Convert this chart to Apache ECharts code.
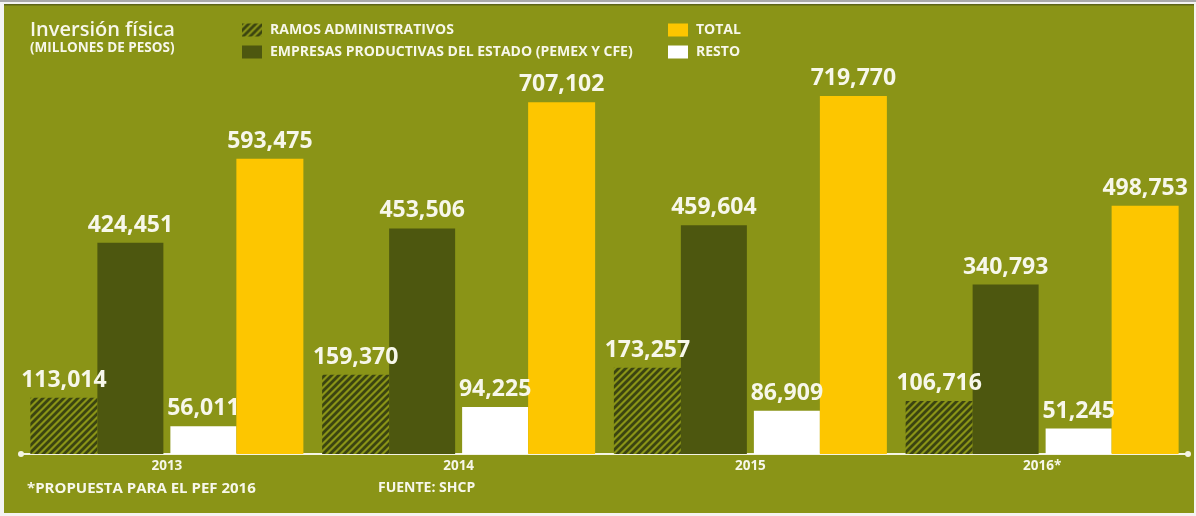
<!DOCTYPE html>
<html>
<head>
<meta charset="utf-8">
<script src="https://cdn.jsdelivr.net/npm/echarts@6/dist/echarts.min.js"></script>
<style>
html,body{margin:0;padding:0;background:#f4f4f2;}
#chart{width:1196px;height:516px;}
</style>
</head>
<body>
<div id="chart"></div>
<script>
const categories = ['2013', '2014', '2015', '2016*'];
const ramos = [113014, 159370, 173257, 106716];
const empresas = [424451, 453506, 459604, 340793];
const resto = [56011, 94225, 86909, 51245];
const total = [593475, 707102, 719770, 498753];
const seriesNames = ['RAMOS ADMINISTRATIVOS', 'EMPRESAS PRODUCTIVAS DEL ESTADO (PEMEX Y CFE)', 'TOTAL', 'RESTO'];

const GREEN = '#8a9417';
const DARK = '#4d570f';
const YELLOW = '#fdc600';
const WHITE = '#ffffff';
const TXT = '#f7f7ea';
const FONT = '"Open Sans", "Noto Sans", sans-serif';

function makeHatch() {
  const s = 7;
  const c = document.createElement('canvas');
  c.width = s; c.height = s;
  const g = c.getContext('2d');
  g.fillStyle = GREEN; g.fillRect(0, 0, s, s);
  g.strokeStyle = '#3b4410';
  g.lineWidth = 2.8;
  g.beginPath();
  g.moveTo(-1, s + 1); g.lineTo(s + 1, -1);
  g.moveTo(-2, 2); g.lineTo(2, -2);
  g.moveTo(s - 2, s + 2); g.lineTo(s + 2, s - 2);
  g.stroke();
  return c;
}
const hatch = { image: makeHatch(), repeat: 'repeat' };

const fmt = v => Number(v).toLocaleString('en-US');
const valueLabel = {
  show: true, position: 'top', distance: 6,
  color: TXT, fontFamily: FONT, fontWeight: 'bold', fontSize: 23,
  formatter: p => fmt(p.value)
};
const legendText = { color: TXT, fontFamily: FONT, fontWeight: 'bold', fontSize: 14, padding: [0, 0, 0, 3] };

const chart = echarts.init(document.getElementById('chart'));
chart.setOption({
  backgroundColor: '#f4f4f2',
  animation: false,
  title: {
    text: 'Inversión física',
    subtext: '(MILLONES DE PESOS)',
    left: 25, top: 15,
    itemGap: 1,
    textStyle: { color: TXT, fontFamily: FONT, fontWeight: 600, fontSize: 20 },
    subtextStyle: { color: TXT, fontFamily: FONT, fontWeight: 'bold', fontSize: 13.5 }
  },
  legend: [
    {
      data: [seriesNames[0], seriesNames[1]],
      orient: 'vertical', left: 237, top: 18, icon: 'rect',
      itemWidth: 20, itemHeight: 13, itemGap: 8,
      textStyle: legendText, selectedMode: false
    },
    {
      data: [seriesNames[2], seriesNames[3]],
      orient: 'vertical', left: 663, top: 18, icon: 'rect',
      itemWidth: 20, itemHeight: 13, itemGap: 8,
      textStyle: legendText, selectedMode: false
    }
  ],
  graphic: [
    { type: 'rect', z: -10, silent: true, shape: { x: 0, y: 0, width: 1196, height: 2 }, style: { fill: '#a9a9a9' } },
    { type: 'rect', z: -10, silent: true, shape: { x: 4, y: 4, width: 1190, height: 509 }, style: { fill: GREEN } },
    { type: 'rect', z: -9, silent: true, shape: { x: 4, y: 4, width: 1190, height: 1.5 }, style: { fill: '#5d6418' } },
    { type: 'text', left: 27, top: 481, silent: true,
      style: { text: '*PROPUESTA PARA EL PEF 2016', fill: TXT, font: 'bold 15px ' + FONT } },
    { type: 'text', left: 378, top: 481, silent: true,
      style: { text: 'FUENTE: SHCP', fill: TXT, font: 'bold 14px ' + FONT } }
  ],
  grid: { left: 21, right: 8, top: 56, bottom: 62 },
  xAxis: {
    type: 'category',
    data: categories,
    axisLine: { lineStyle: { color: '#f4f4e4', width: 2 }, symbol: ['circle', 'circle'], symbolSize: [6, 6] },
    axisTick: { show: false },
    axisLabel: { color: TXT, fontFamily: FONT, fontWeight: 'bold', fontSize: 13.5, margin: 5 }
  },
  yAxis: {
    type: 'value', min: 0, max: 800000, show: false,
    splitLine: { show: false }
  },
  series: [
    { name: seriesNames[0], type: 'bar', data: ramos, barWidth: 67, barGap: '0%',
      itemStyle: { color: hatch }, label: valueLabel },
    { name: seriesNames[1], type: 'bar', data: empresas, barWidth: 66, barGap: '0%',
      itemStyle: { color: DARK }, label: valueLabel },
    { name: 'spacer', type: 'bar', data: ['-', '-', '-', '-'], barWidth: 7, barGap: '0%',
      itemStyle: { color: 'rgba(0,0,0,0)' }, silent: true },
    { name: seriesNames[3], type: 'bar', data: resto, barWidth: 66, barGap: '0%',
      itemStyle: { color: WHITE }, label: valueLabel },
    { name: seriesNames[2], type: 'bar', data: total, barWidth: 67, barGap: '0%',
      itemStyle: { color: YELLOW }, label: valueLabel }
  ]
});
</script>
</body>
</html>
